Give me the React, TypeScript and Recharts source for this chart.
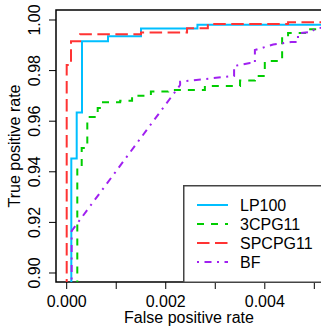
import { LineChart, Line, XAxis, YAxis, ReferenceArea, Legend } from 'recharts'

// ─── Data ─────────────────────────────────────────────────────────────────
const lp100Fpr = [0.000093, 0.000093, 0.000202, 0.000202, 0.000309, 0.000309, 0.000834, 0.000834, 0.0015, 0.0015, 0.00264, 0.00264, 0.0053]
const lp100Tpr = [0.85, 0.9453, 0.9453, 0.9634, 0.9634, 0.9916, 0.9916, 0.9936, 0.9936, 0.9966, 0.9966, 0.9981, 0.9981]

const cpg3Fpr = [
  0.000214, 0.000214, 0.000303, 0.000303, 0.000416, 0.000416, 0.000626, 0.000626, 0.000733, 0.000733,
  0.00108, 0.00108, 0.00132, 0.00132, 0.0017, 0.0017, 0.00205, 0.00205, 0.00279, 0.00279,
  0.0035, 0.0035, 0.0038, 0.0038, 0.004, 0.004, 0.00435, 0.00435, 0.00447, 0.00447,
  0.00481, 0.00481, 0.0053,
]
const cpg3Tpr = [
  0.85, 0.9423, 0.9423, 0.9494, 0.9494, 0.9617, 0.9617, 0.9652, 0.9652, 0.9675,
  0.9675, 0.9681, 0.9681, 0.9701, 0.9701, 0.9717, 0.9717, 0.9723, 0.9723, 0.9739,
  0.9739, 0.9761, 0.9761, 0.9779, 0.9779, 0.9838, 0.9838, 0.9935, 0.9935, 0.9949,
  0.9949, 0.9963, 0.9963,
]

const spcpgFpr = [0, 0, 0.000087, 0.000087, 0.00027, 0.00027, 0.0015, 0.0015, 0.00243, 0.00243, 0.00285, 0.00285, 0.00447, 0.00447, 0.0053]
const spcpgTpr = [0.85, 0.9822, 0.9822, 0.9916, 0.9916, 0.9944, 0.9944, 0.9951, 0.9951, 0.9967, 0.9967, 0.9984, 0.9984, 0.9991, 0.9991]

const bfFpr = [0.0001, 0.0001, 0.00229, 0.00229, 0.00338, 0.00338, 0.0037, 0.0038, 0.0038, 0.00417, 0.00453, 0.00467, 0.00467, 0.00495, 0.005, 0.0053]
const bfTpr = [0.85, 0.9166, 0.9743, 0.9756, 0.9779, 0.9818, 0.983, 0.983, 0.9881, 0.9903, 0.9913, 0.9913, 0.9947, 0.9953, 0.9964, 0.9975]

const xTicks = [0, 0.001, 0.002, 0.003, 0.004, 0.005]
const xLabelled = [0, 0.002, 0.004]
const yTicks = [0.9, 0.92, 0.94, 0.96, 0.98, 1.0]

const xDomain = [-0.000216, 0.005155]
const yDomain = [0.89644, 1.00395]

const FONT = '"Liberation Sans", Arial, Helvetica, sans-serif'

const toPoints = (fpr: number[], tpr: number[]) => fpr.map((x, i) => ({ x, y: tpr[i] }))

interface Series {
  name: string
  color: string
  dash?: string
  points: { x: number; y: number }[]
}

const SERIES: Series[] = [
  { name: 'LP100', color: '#00BFFF', points: toPoints(lp100Fpr, lp100Tpr) },
  { name: '3CPG11', color: '#00CD00', dash: '7 7', points: toPoints(cpg3Fpr, cpg3Tpr) },
  { name: 'SPCPG11', color: '#FF3333', dash: '12.5 5.5', points: toPoints(spcpgFpr, spcpgTpr) },
  { name: 'BF', color: '#A020F0', dash: '2 5.5 7 5.5', points: toPoints(bfFpr, bfTpr) },
]

// ─── Axis ticks ───────────────────────────────────────────────────────────
function XTick({ x, y, payload }: any) {
  if (!xLabelled.includes(payload.value)) return <g />
  return (
    <text x={x} y={y + 15.5} textAnchor="middle" fontSize={16} fill="#000">
      {payload.value.toFixed(3)}
    </text>
  )
}

function YTick({ x, y, payload }: any) {
  const bx = x - 7
  return (
    <text x={bx} y={y} transform={`rotate(-90, ${bx}, ${y})`} textAnchor="middle" fontSize={16} fill="#000">
      {payload.value.toFixed(2)}
    </text>
  )
}

// ─── Legend box (R style) ─────────────────────────────────────────────────
function LegendBox() {
  return (
    <svg width={150} height={98} style={{ display: 'block', fontFamily: FONT }}>
      <rect x={0.75} y={0.75} width={170} height={96.5} fill="#fff" stroke="#444" strokeWidth={1.5} />
      {SERIES.map((s, i) => {
        const cy = 20 + i * 19
        return (
          <g key={s.name}>
            <line x1={14} x2={45} y1={cy} y2={cy} stroke={s.color} strokeWidth={2} strokeDasharray={s.dash} />
            <text x={57} y={cy + 6} fontSize={16} fill="#000">
              {s.name}
            </text>
          </g>
        )
      })}
    </svg>
  )
}

export default function App() {
  return (
    <div
      style={{
        position: 'absolute',
        left: 0,
        top: 0,
        width: 321,
        height: 327,
        overflow: 'hidden',
        background: '#fff',
        fontFamily: FONT,
      }}
    >
      <LineChart width={330} height={327} margin={{ top: 10, right: 8, bottom: 0, left: 0 }}>
        <XAxis
          type="number"
          dataKey="x"
          domain={xDomain}
          ticks={xTicks}
          allowDataOverflow
          axisLine={false}
          tickLine={{ stroke: '#000', strokeWidth: 1 }}
          tickSize={7}
          height={45}
          tick={<XTick />}
          interval={0}
          label={{ value: 'False positive rate', position: 'insideBottom', offset: 4, fontSize: 16, fill: '#000' }}
        />
        <YAxis
          type="number"
          dataKey="y"
          domain={yDomain}
          ticks={yTicks}
          allowDataOverflow
          axisLine={false}
          tickLine={{ stroke: '#000', strokeWidth: 1 }}
          tickSize={7}
          width={56}
          tick={<YTick />}
          interval={0}
          label={{
            value: 'True positive rate',
            angle: -90,
            position: 'insideLeft',
            offset: 14,
            fontSize: 16,
            fill: '#000',
            style: { textAnchor: 'middle' },
          }}
        />
        {SERIES.map((s) => (
          <Line
            key={s.name}
            name={s.name}
            data={s.points}
            dataKey="y"
            type="linear"
            stroke={s.color}
            strokeWidth={2}
            strokeDasharray={s.dash}
            dot={false}
            activeDot={false}
            isAnimationActive={false}
          />
        ))}
        <ReferenceArea
          x1={xDomain[0]}
          x2={xDomain[1]}
          y1={yDomain[0]}
          y2={yDomain[1]}
          ifOverflow="visible"
          fill="none"
          stroke="#000"
          strokeWidth={1.5}
        />
        <Legend
          layout="horizontal"
          verticalAlign="middle"
          align="center"
          content={() => <LegendBox />}
          wrapperStyle={{ left: 183, top: 185, width: 150, height: 98 }}
        />
      </LineChart>
    </div>
  )
}
